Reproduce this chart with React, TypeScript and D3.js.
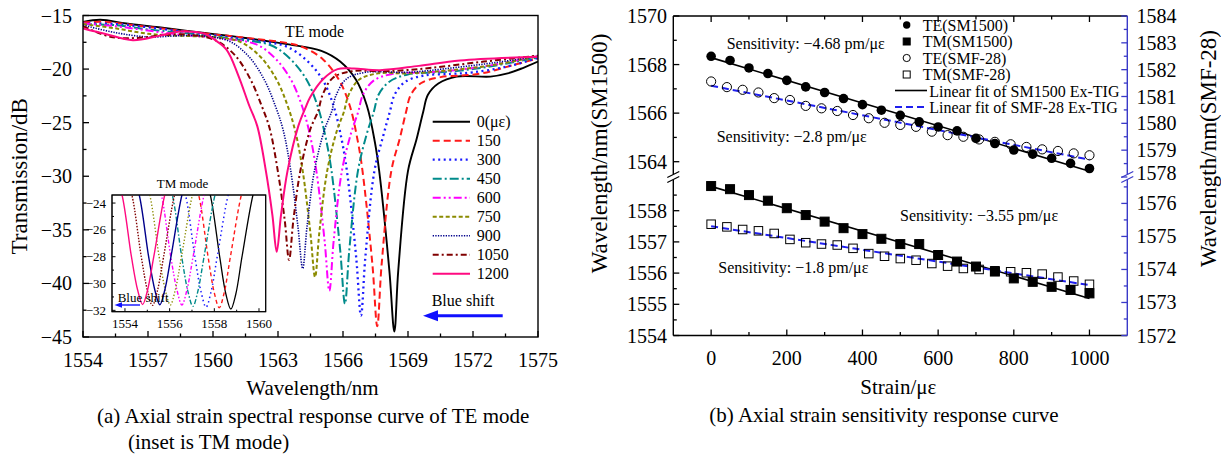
import React from "react";
import * as d3 from "d3";

type P = [number, number];

// ---------------- Panel (a): TE-mode spectra (wavelength nm, transmission dB) ----------------
const strainLevels = ["0(με)", "150", "300", "450", "600", "750", "900", "1050", "1200"];

const te0: P[] = [[1554,-15.6],[1554.8,-15.4],[1556,-15.75],[1557.5,-16.1],[1559.5,-16.6],[1561.5,-17.1],[1563.5,-17.7],[1565.0,-18.3],[1565.87,-19.3],[1566.6,-21.0],[1567.1,-23.4],[1567.47,-26.8],[1567.67,-29.5],[1568.14,-38.8],[1568.37,-44.5],[1568.55,-38.8],[1569.0,-29.5],[1569.4,-26.5],[1569.7,-24.0],[1569.92,-22.4],[1570.4,-21.35],[1571.25,-20.7],[1572.8,-20.7],[1573.6,-20.4],[1574.3,-19.9],[1575,-19.3]];
const te150: P[] = [[1554,-15.65],[1555,-15.6],[1556.5,-15.95],[1558,-16.3],[1560,-16.75],[1562,-17.2],[1563.5,-17.6],[1564.2,-18.0],[1565.08,-19.1],[1565.81,-21.0],[1566.31,-23.4],[1566.68,-26.7],[1566.9,-29.5],[1567.36,-38.3],[1567.58,-44.0],[1567.78,-38.3],[1568.23,-29.5],[1568.63,-26.4],[1568.91,-24.0],[1569.13,-22.4],[1569.61,-21.3],[1570.5,-20.75],[1571.5,-20.6],[1572.4,-20.4],[1573.9,-19.6],[1575,-19.0]];
const te300: P[] = [[1554,-15.75],[1555.5,-15.8],[1557,-16.1],[1559,-16.6],[1561,-17.1],[1562.5,-17.5],[1563.4,-17.9],[1564.33,-19.2],[1565.06,-21.0],[1565.56,-23.4],[1565.93,-26.5],[1566.18,-29.5],[1566.61,-37.6],[1566.83,-43.0],[1567.03,-37.6],[1567.45,-29.5],[1567.86,-26.2],[1568.16,-24.0],[1568.38,-22.4],[1568.86,-21.2],[1569.73,-20.6],[1571,-20.45],[1572,-20.3],[1573.5,-19.8],[1575,-18.95]];
const te450: P[] = [[1554,-15.8],[1555.5,-15.9],[1557,-16.3],[1559,-16.7],[1561,-17.2],[1562.7,-17.8],[1563.59,-19.1],[1564.32,-21.0],[1564.82,-23.4],[1565.19,-26.3],[1565.47,-29.5],[1565.87,-36.9],[1566.09,-41.9],[1566.29,-36.9],[1566.69,-29.5],[1567.09,-26.1],[1567.42,-24.0],[1567.64,-22.4],[1568.12,-21.2],[1568.99,-20.5],[1570.5,-20.3],[1572,-20.0],[1573.5,-19.5],[1575,-18.9]];
const te600: P[] = [[1554,-15.75],[1555.5,-16.0],[1557,-16.4],[1558.5,-16.8],[1560.2,-17.1],[1562.0,-17.7],[1562.87,-19.0],[1563.6,-21.0],[1564.1,-23.4],[1564.47,-26.1],[1564.77,-29.5],[1565.15,-36.0],[1565.37,-40.7],[1565.57,-36.0],[1565.95,-29.5],[1566.37,-26.0],[1566.7,-24.0],[1566.92,-22.4],[1567.4,-21.1],[1568.27,-20.45],[1570,-20.3],[1572,-19.9],[1573.5,-19.4],[1575,-18.8]];
const te750: P[] = [[1554,-15.8],[1555.5,-16.2],[1557,-16.7],[1558.5,-16.9],[1560,-17.0],[1561.3,-17.5],[1562.21,-18.9],[1562.94,-21.0],[1563.44,-23.4],[1563.81,-25.9],[1564.14,-29.5],[1564.49,-35.2],[1564.71,-39.4],[1564.91,-35.2],[1565.27,-29.5],[1565.71,-25.8],[1566.04,-24.0],[1566.26,-22.4],[1566.74,-21.0],[1567.61,-20.4],[1569,-20.4],[1571,-20.1],[1573,-19.6],[1575,-18.8]];
const te900: P[] = [[1554,-15.9],[1555.5,-16.6],[1557,-17.0],[1558.3,-16.9],[1559.5,-16.9],[1560.75,-17.4],[1561.64,-18.8],[1562.37,-21.0],[1562.87,-23.4],[1563.24,-25.7],[1563.59,-29.5],[1563.92,-34.7],[1564.14,-38.6],[1564.34,-34.7],[1564.68,-29.5],[1565.14,-25.7],[1565.47,-24.0],[1565.69,-22.4],[1566.17,-20.9],[1567.04,-20.3],[1569,-20.3],[1571,-19.9],[1573,-19.4],[1575,-18.8]];
const te1050: P[] = [[1554,-16.0],[1555.3,-17.0],[1556.5,-17.1],[1557.8,-16.8],[1559,-16.8],[1560.1,-17.3],[1561.01,-18.7],[1561.74,-21.0],[1562.24,-23.4],[1562.61,-25.5],[1562.99,-29.5],[1563.31,-34.1],[1563.51,-37.8],[1563.71,-34.1],[1564.03,-29.5],[1564.51,-25.5],[1564.84,-24.0],[1565.06,-22.4],[1565.54,-20.8],[1566.41,-20.2],[1568,-20.2],[1570,-19.9],[1572.5,-19.3],[1575,-18.75]];
const te1200: P[] = [[1554,-16.2],[1555,-16.7],[1556.3,-17.3],[1557.5,-16.9],[1558.5,-16.5],[1559.6,-16.7],[1560.1,-17.3],[1560.63,-18.2],[1561.17,-20.6],[1561.67,-23.4],[1562.04,-25.3],[1562.44,-29.5],[1562.74,-33.6],[1562.94,-37.05],[1563.14,-33.6],[1563.44,-29.5],[1563.94,-25.3],[1564.27,-23.6],[1564.49,-22.6],[1565.1,-20.9],[1565.75,-20.0],[1566.5,-19.95],[1567.7,-20.1],[1569.5,-19.7],[1571.4,-19.2],[1575,-18.85]];
const teSpectra = [te0, te150, te300, te450, te600, te750, te900, te1050, te1200];

// Inset: TM-mode dips
const tm0: P[] = [[1557.54,-22],[1557.82,-23.4],[1558.24,-28],[1558.52,-30.8],[1558.74,-31.9],[1558.96,-30.8],[1559.24,-28],[1559.73,-23.4],[1559.99,-22]];
const tm150: P[] = [[1557.02,-22],[1557.3,-23.4],[1557.72,-28],[1558.0,-30.7],[1558.22,-31.8],[1558.44,-30.7],[1558.72,-28],[1559.21,-23.4],[1559.47,-22]];
const tm300: P[] = [[1556.43,-22],[1556.71,-23.4],[1557.13,-28],[1557.41,-30.65],[1557.63,-31.76],[1557.85,-30.65],[1558.13,-28],[1558.62,-23.4],[1558.88,-22]];
const tm450: P[] = [[1555.84,-22],[1556.12,-23.4],[1556.54,-28],[1556.82,-30.6],[1557.04,-31.7],[1557.26,-30.6],[1557.54,-28],[1558.03,-23.4],[1558.29,-22]];
const tm600: P[] = [[1555.35,-22],[1555.63,-23.4],[1556.05,-28],[1556.33,-30.5],[1556.55,-31.6],[1556.77,-30.5],[1557.05,-28],[1557.54,-23.4],[1557.8,-22]];
const tm750: P[] = [[1554.83,-22],[1555.11,-23.4],[1555.53,-28],[1555.81,-30.5],[1556.03,-31.6],[1556.25,-30.5],[1556.53,-28],[1557.02,-23.4],[1557.28,-22]];
const tm900: P[] = [[1554.36,-22],[1554.64,-23.4],[1555.06,-28],[1555.34,-30.5],[1555.56,-31.58],[1555.78,-30.5],[1556.06,-28],[1556.55,-23.4],[1556.81,-22]];
const tm1050: P[] = [[1554.03,-22],[1554.31,-23.4],[1554.73,-28],[1555.01,-30.55],[1555.23,-31.63],[1555.45,-30.55],[1555.73,-28],[1556.22,-23.4],[1556.48,-22]];
const tm1200: P[] = [[1553.59,-22],[1553.87,-23.4],[1554.29,-28],[1554.57,-30.5],[1554.79,-31.56],[1555.01,-30.5],[1555.29,-28],[1555.78,-23.4],[1556.04,-22]];
const tmSpectra = [tm0, tm150, tm300, tm450, tm600, tm750, tm900, tm1050, tm1200];

const aXTicks = [1554, 1557, 1560, 1563, 1566, 1569, 1572, 1575];
const aYTicks = [-45, -40, -35, -30, -25, -20, -15];
const insetXTicks = [1554, 1556, 1558, 1560];
const insetYTicks = [-32, -30, -28, -26, -24];

// ---------------- Panel (b): sensitivity (strain με, wavelength nm) ----------------
const strainSM1500 = [0, 50, 100, 150, 200, 250, 300, 350, 400, 450, 500, 550, 600, 650, 700, 750, 800, 850, 900, 950, 1000];
const teSM1500 = [1568.34, 1568.17, 1567.86, 1567.63, 1567.35, 1567.08, 1566.85, 1566.6, 1566.35, 1566.12, 1565.91, 1565.64, 1565.43, 1565.27, 1564.96, 1564.75, 1564.48, 1564.31, 1564.14, 1563.93, 1563.72];
const tmSM1500 = [1558.79, 1558.69, 1558.5, 1558.32, 1558.08, 1557.86, 1557.65, 1557.44, 1557.25, 1557.1, 1556.93, 1556.93, 1556.58, 1556.37, 1556.21, 1556.05, 1555.83, 1555.72, 1555.56, 1555.46, 1555.35];
const strainSMF28 = [0, 41.67, 83.33, 125, 166.67, 208.33, 250, 291.67, 333.33, 375, 416.67, 458.33, 500, 541.67, 583.33, 625, 666.67, 708.33, 750, 791.67, 833.33, 875, 916.67, 958.33, 1000];
const teSMF28 = [1581.56, 1581.35, 1581.25, 1581.15, 1580.94, 1580.87, 1580.65, 1580.56, 1580.46, 1580.31, 1580.19, 1580.02, 1579.94, 1579.87, 1579.69, 1579.56, 1579.5, 1579.4, 1579.31, 1579.22, 1579.12, 1579.03, 1578.97, 1578.88, 1578.81];
const tmSMF28 = [1575.37, 1575.29, 1575.21, 1575.17, 1575.09, 1574.91, 1574.81, 1574.77, 1574.74, 1574.64, 1574.48, 1574.4, 1574.33, 1574.28, 1574.18, 1574.1, 1574.03, 1574.0, 1573.96, 1573.93, 1573.9, 1573.86, 1573.77, 1573.65, 1573.55];

const bXTicks = [0, 200, 400, 600, 800, 1000];
const bYUpperLeft = [1564, 1566, 1568, 1570];
const bYLowerLeft = [1554, 1555, 1556, 1557, 1558];
const bYUpperRight = [1578, 1579, 1580, 1581, 1582, 1583, 1584];
const bYLowerRight = [1572, 1573, 1574, 1575, 1576];
const legendB = ["TE(SM1500)", "TM(SM1500)", "TE(SMF-28)", "TM(SMF-28)", "Linear fit of SM1500 Ex-TIG", "Linear fit of SMF-28 Ex-TIG"];
const sensitivityLabels = ["Sensitivity: −4.68 pm/με", "Sensitivity: −2.8 pm/με", "Sensitivity: −3.55 pm/με", "Sensitivity: −1.8 pm/με"];

// ---------------- styles ----------------
const FONT = "'Liberation Serif','Times New Roman',serif";
const teStyles = [
  { c: "#000000", w: 1.9, dash: "" },
  { c: "#ff1a1a", w: 2, dash: "7,4" },
  { c: "#1a1aff", w: 2.3, dash: "2,3.5" },
  { c: "#008b8b", w: 2, dash: "9,3,2,3" },
  { c: "#ff00ff", w: 2, dash: "8,3,2,3,2,3" },
  { c: "#8b8b00", w: 2, dash: "4,2.5" },
  { c: "#00008b", w: 1.6, dash: "1.3,1.3" },
  { c: "#800000", w: 2, dash: "6,3,2,3" },
  { c: "#ff0a80", w: 2, dash: "" },
];
const tmStyles = [
  { c: "#000000", w: 1.3, dash: "" },
  { c: "#ff1a1a", w: 1.4, dash: "4,3" },
  { c: "#1a1aff", w: 1.5, dash: "1.5,3" },
  { c: "#008b8b", w: 1.4, dash: "5,2,1.5,2" },
  { c: "#ff00ff", w: 1.4, dash: "4,2,1.5,2,1.5,2" },
  { c: "#8b8b00", w: 1.4, dash: "1.3,2" },
  { c: "#00008b", w: 1.4, dash: "" },
  { c: "#800000", w: 1.4, dash: "1.5,1.5" },
  { c: "#ff0a80", w: 1.4, dash: "" },
];
const BLUE_AXIS = "#3a3ac8";
const FIT_BLUE = "#1f1fee";

function linFit(xs: number[], ys: number[]) {
  const mx = d3.mean(xs) as number;
  const my = d3.mean(ys) as number;
  let sxy = 0, sxx = 0;
  xs.forEach((x, i) => { sxy += (x - mx) * (ys[i] - my); sxx += (x - mx) * (x - mx); });
  const b = sxy / sxx;
  return { a: my - b * mx, b };
}

const minus = (v: number) => (v < 0 ? "−" + Math.abs(v) : String(v));

export default function App() {
  // ---- panel a scales
  const aL = 83, aR = 538, aT = 15.5, aB = 337;
  const xA = d3.scaleLinear().domain([1554, 1575]).range([aL, aR]);
  const yA = d3.scaleLinear().domain([-45, -15]).range([aB, aT]);
  const iL = 112, iR = 265.7, iT = 195, iB = 311.7;
  const xI = d3.scaleLinear().domain([1553.42, 1560.3]).range([iL, iR]);
  const yI = d3.scaleLinear().domain([-32.1, -23.4]).range([iB, iT]);
  const lineA = d3.line<P>().x((d) => xA(d[0])).y((d) => yA(d[1])).curve(d3.curveCatmullRom.alpha(0.5));
  const lineI = d3.line<P>().x((d) => xI(d[0])).y((d) => yI(d[1])).curve(d3.curveCatmullRom.alpha(0.5));

  // ---- panel b scales
  const bL = 673.3, bR = 1127.3, bT = 16, bB = 335.5, brk = 177;
  const xB = d3.scaleLinear().domain([-100, 1100]).range([bL, bR]);
  const yUL = d3.scaleLinear().domain([1563.37, 1570]).range([brk, bT]);
  const yLL = d3.scaleLinear().domain([1554, 1559.08]).range([bB, brk]);
  const yUR = d3.scaleLinear().domain([1578, 1584]).range([brk, bT]);
  const yLR = d3.scaleLinear().domain([1572, 1576.8]).range([bB, brk]);

  const fTE1 = linFit(strainSM1500, teSM1500);
  const fTM1 = linFit(strainSM1500, tmSM1500);
  const fTE2 = linFit(strainSMF28, teSMF28);
  const fTM2 = linFit(strainSMF28, tmSMF28);
  const fitPath = (f: { a: number; b: number }, y: d3.ScaleLinear<number, number>) =>
    d3.line<number>().x((s) => xB(s)).y((s) => y(f.a + f.b * s))([0, 1000]) as string;

  const txt = { fontFamily: FONT, fill: "#000" } as const;

  const aXMinor = d3.range(1554, 1575.01, 1.5).filter((v) => !aXTicks.some((t) => Math.abs(t - v) < 1e-6));
  const aYMinor = d3.range(-42.5, -15, 5);
  const bXMinor = d3.range(100, 1000, 200);
  const topTicks = d3.range(0, 1001, 100);

  const sq = (cx: number, cy: number, s: number, fill: string, key: string) => (
    <rect key={key} x={cx - s / 2} y={cy - s / 2} width={s} height={s} fill={fill} stroke="#000" strokeWidth={1} />
  );

  const breakMark = (x: number, color: string) => (
    <g stroke={color} strokeWidth={1.3}>
      <rect x={x - 3} y={brk - 2.8} width={6} height={5.6} fill="#fff" stroke="none" />
      <line x1={x - 6} y1={brk + 0.5} x2={x + 6} y2={brk - 5.5} />
      <line x1={x - 6} y1={brk + 5.5} x2={x + 6} y2={brk - 0.5} />
    </g>
  );

  return (
    <svg width={1221} height={454} style={{ position: "absolute", left: 0, top: 0, background: "#fff" }}>
      <defs>
        <clipPath id="clipA"><rect x={aL} y={aT} width={aR - aL} height={aB - aT} /></clipPath>
        <clipPath id="clipI"><rect x={iL} y={iT} width={iR - iL} height={iB - iT} /></clipPath>
      </defs>
      <rect x={0} y={0} width={1221} height={454} fill="#fff" />

      {/* ================= Panel (a) ================= */}
      <g clipPath="url(#clipA)">
        {teSpectra.map((s, i) => (
          <path key={i} d={lineA(s) as string} fill="none" stroke={teStyles[i].c} strokeWidth={teStyles[i].w}
            strokeDasharray={teStyles[i].dash || undefined} strokeLinejoin="round" />
        ))}
      </g>
      <rect x={aL} y={aT} width={aR - aL} height={aB - aT} fill="none" stroke="#000" strokeWidth={1.4} />
      {aXTicks.map((t) => <line key={"ax" + t} x1={xA(t)} x2={xA(t)} y1={aB} y2={aB - 6} stroke="#000" strokeWidth={1.3} />)}
      {aXMinor.map((t) => <line key={"axm" + t} x1={xA(t)} x2={xA(t)} y1={aB} y2={aB - 3.5} stroke="#000" strokeWidth={1.3} />)}
      {aYTicks.map((t) => <line key={"ay" + t} x1={aL} x2={aL + 6} y1={yA(t)} y2={yA(t)} stroke="#000" strokeWidth={1.3} />)}
      {aYMinor.map((t) => <line key={"aym" + t} x1={aL} x2={aL + 3.5} y1={yA(t)} y2={yA(t)} stroke="#000" strokeWidth={1.3} />)}
      {aXTicks.map((t) => <text key={"axl" + t} x={xA(t)} y={367} textAnchor="middle" fontSize={20} {...txt}>{t}</text>)}
      {aYTicks.map((t) => <text key={"ayl" + t} x={72} y={yA(t) + 7} textAnchor="end" fontSize={20} {...txt}>{minus(t)}</text>)}
      <text x={312.5} y={395} textAnchor="middle" fontSize={21} {...txt}>Wavelength/nm</text>
      <text transform={`translate(27,${(aT + aB) / 2}) rotate(-90)`} textAnchor="middle" fontSize={23} {...txt}>Transmission/dB</text>
      <text x={285} y={37} fontSize={16} {...txt}>TE mode</text>

      {/* legend a */}
      {strainLevels.map((lab, i) => {
        const y = 121.7 + 19 * i;
        return (
          <g key={"lg" + i}>
            <line x1={432.7} x2={470} y1={y} y2={y} stroke={teStyles[i].c} strokeWidth={teStyles[i].w}
              strokeDasharray={teStyles[i].dash || undefined} />
            <text x={476.7} y={y + 5.5} fontSize={16} {...txt}>{lab}</text>
          </g>
        );
      })}
      <text x={431.7} y={305.5} fontSize={16} {...txt}>Blue shift</text>
      <line x1={502.7} x2={436} y1={315.7} y2={315.7} stroke="#1010ff" strokeWidth={3} />
      <path d="M423,315.7 L438,310.2 L438,321.2 Z" fill="#1010ff" />

      {/* inset */}
      <rect x={iL} y={iT} width={iR - iL} height={iB - iT} fill="#fff" stroke="#000" strokeWidth={1} />
      <g clipPath="url(#clipI)">
        {tmSpectra.map((s, i) => (
          <path key={i} d={lineI(s) as string} fill="none" stroke={tmStyles[i].c} strokeWidth={tmStyles[i].w}
            strokeDasharray={tmStyles[i].dash || undefined} />
        ))}
      </g>
      <rect x={iL} y={iT} width={iR - iL} height={iB - iT} fill="none" stroke="#000" strokeWidth={1} />
      {insetXTicks.map((t) => <line key={"ix" + t} x1={xI(t)} x2={xI(t)} y1={iB} y2={iB - 3.5} stroke="#000" strokeWidth={1} />)}
      {[1555, 1557, 1559].map((t) => <line key={"ixm" + t} x1={xI(t)} x2={xI(t)} y1={iB} y2={iB - 2} stroke="#000" strokeWidth={1} />)}
      {insetYTicks.map((t) => <line key={"iy" + t} x1={iL} x2={iL + 3.5} y1={yI(t)} y2={yI(t)} stroke="#000" strokeWidth={1} />)}
      {[-31, -29, -27, -25].map((t) => <line key={"iym" + t} x1={iL} x2={iL + 2} y1={yI(t)} y2={yI(t)} stroke="#000" strokeWidth={1} />)}
      {insetXTicks.map((t) => <text key={"ixl" + t} x={xI(t)} y={327.5} textAnchor="middle" fontSize={13} {...txt}>{t}</text>)}
      {insetYTicks.map((t) => <text key={"iyl" + t} x={106} y={yI(t) + 4.5} textAnchor="end" fontSize={13} {...txt}>{minus(t)}</text>)}
      <text x={156.7} y={188} fontSize={13} {...txt}>TM mode</text>
      <text x={117.7} y={301.5} fontSize={13} {...txt}>Blue shift</text>
      <line x1={140} x2={121} y1={305} y2={305} stroke="#1010ff" strokeWidth={1.4} />
      <path d="M114.5,305 L122,302.3 L122,307.7 Z" fill="#1010ff" />

      <text x={97} y={423} fontSize={21} {...txt}>(a) Axial strain spectral response curve of TE mode</text>
      <text x={128} y={449} fontSize={21} {...txt}>(inset is TM mode)</text>

      {/* ================= Panel (b) ================= */}
      {/* fits */}
      <path d={fitPath(fTE1, yUL)} stroke="#000" strokeWidth={1.6} fill="none" />
      <path d={fitPath(fTM1, yLL)} stroke="#000" strokeWidth={1.6} fill="none" />
      <path d={fitPath(fTE2, yUR)} stroke={FIT_BLUE} strokeWidth={2} strokeDasharray="7,4" fill="none" />
      <path d={fitPath(fTM2, yLR)} stroke={FIT_BLUE} strokeWidth={2} strokeDasharray="7,4" fill="none" />
      {/* points */}
      {strainSM1500.map((s, i) => <circle key={"te1" + i} cx={xB(s)} cy={yUL(teSM1500[i])} r={4.8} fill="#000" />)}
      {strainSM1500.map((s, i) => sq(xB(s), yLL(tmSM1500[i]), 9, "#000", "tm1" + i))}
      {strainSMF28.map((s, i) => <circle key={"te2" + i} cx={xB(s)} cy={yUR(teSMF28[i])} r={4.6} fill="none" stroke="#000" strokeWidth={1} />)}
      {strainSMF28.map((s, i) => sq(xB(s), yLR(tmSMF28[i]), 8.5, "none", "tm2" + i))}

      {/* frame */}
      <line x1={bL} x2={bR} y1={bT} y2={bT} stroke="#000" strokeWidth={1.4} />
      <line x1={bL} x2={bR} y1={bB} y2={bB} stroke="#000" strokeWidth={1.4} />
      <line x1={bL} x2={bL} y1={bT} y2={bB} stroke="#000" strokeWidth={1.4} />
      <line x1={bR} x2={bR} y1={bT} y2={bB} stroke={BLUE_AXIS} strokeWidth={1.4} />
      {breakMark(bL, "#000")}
      {breakMark(bR, BLUE_AXIS)}

      {/* x ticks */}
      {bXTicks.map((t) => <line key={"bx" + t} x1={xB(t)} x2={xB(t)} y1={bB} y2={bB - 6} stroke="#000" strokeWidth={1.3} />)}
      {bXMinor.map((t) => <line key={"bxm" + t} x1={xB(t)} x2={xB(t)} y1={bB} y2={bB - 3.5} stroke="#000" strokeWidth={1.3} />)}
      {topTicks.map((t) => <line key={"bt" + t} x1={xB(t)} x2={xB(t)} y1={bT} y2={bT + (t % 200 === 0 ? 6 : 3.5)} stroke="#000" strokeWidth={1.3} />)}
      {bXTicks.map((t) => <text key={"bxl" + t} x={xB(t)} y={365} textAnchor="middle" fontSize={20} {...txt}>{t}</text>)}

      {/* left y ticks */}
      {bYUpperLeft.map((t) => <line key={"bul" + t} x1={bL} x2={bL + 6} y1={yUL(t)} y2={yUL(t)} stroke="#000" strokeWidth={1.3} />)}
      {[1565, 1567, 1569].map((t) => <line key={"bulm" + t} x1={bL} x2={bL + 3.5} y1={yUL(t)} y2={yUL(t)} stroke="#000" strokeWidth={1.3} />)}
      {bYLowerLeft.map((t) => <line key={"bll" + t} x1={bL} x2={bL + 6} y1={yLL(t)} y2={yLL(t)} stroke="#000" strokeWidth={1.3} />)}
      {[1554.5, 1555.5, 1556.5, 1557.5, 1558.5].map((t) => <line key={"bllm" + t} x1={bL} x2={bL + 3.5} y1={yLL(t)} y2={yLL(t)} stroke="#000" strokeWidth={1.3} />)}
      {bYUpperLeft.map((t) => <text key={"bulL" + t} x={667} y={yUL(t) + 7} textAnchor="end" fontSize={20} {...txt}>{t}</text>)}
      {bYLowerLeft.map((t) => <text key={"bllL" + t} x={667} y={yLL(t) + 7} textAnchor="end" fontSize={20} {...txt}>{t}</text>)}

      {/* right y ticks */}
      {bYUpperRight.map((t) => <line key={"bur" + t} x1={bR} x2={bR - 6} y1={yUR(t)} y2={yUR(t)} stroke={BLUE_AXIS} strokeWidth={1.3} />)}
      {[1578.5, 1579.5, 1580.5, 1581.5, 1582.5, 1583.5].map((t) => <line key={"burm" + t} x1={bR} x2={bR - 3.5} y1={yUR(t)} y2={yUR(t)} stroke={BLUE_AXIS} strokeWidth={1.3} />)}
      {bYLowerRight.map((t) => <line key={"blr" + t} x1={bR} x2={bR - 6} y1={yLR(t)} y2={yLR(t)} stroke={BLUE_AXIS} strokeWidth={1.3} />)}
      {[1572.5, 1573.5, 1574.5, 1575.5, 1576.5].map((t) => <line key={"blrm" + t} x1={bR} x2={bR - 3.5} y1={yLR(t)} y2={yLR(t)} stroke={BLUE_AXIS} strokeWidth={1.3} />)}
      {bYUpperRight.map((t) => <text key={"burL" + t} x={1136.5} y={yUR(t) + (t === 1578 ? 3 : 7)} fontSize={20} {...txt}>{t}</text>)}
      {bYLowerRight.map((t) => <text key={"blrL" + t} x={1136.5} y={yLR(t) + 7} fontSize={20} {...txt}>{t}</text>)}

      <text x={898.3} y={394} textAnchor="middle" fontSize={21} {...txt}>Strain/με</text>
      <text transform={`translate(607,153.5) rotate(-90)`} textAnchor="middle" fontSize={23} {...txt}>Wavelength/nm(SM1500)</text>
      <text transform={`translate(1216,148.5) rotate(-90)`} textAnchor="middle" fontSize={23} {...txt}>Wavelength/nm(SMF-28)</text>
      <text x={884} y={422} textAnchor="middle" fontSize={21} {...txt}>(b) Axial strain sensitivity response curve</text>

      {/* sensitivity labels */}
      <text x={726.7} y={49} fontSize={16} {...txt}>{sensitivityLabels[0]}</text>
      <text x={716.7} y={141.5} fontSize={16} {...txt}>{sensitivityLabels[1]}</text>
      <text x={900} y={221} fontSize={16} {...txt}>{sensitivityLabels[2]}</text>
      <text x={718.3} y={273} fontSize={16} {...txt}>{sensitivityLabels[3]}</text>

      {/* legend b */}
      <circle cx={906.7} cy={25} r={3.7} fill="#000" />
      {sq(906.7, 41.5, 7, "#000", "lgsq1")}
      <circle cx={906.7} cy={58} r={3.6} fill="none" stroke="#000" strokeWidth={1} />
      {sq(906.7, 74.5, 7, "none", "lgsq2")}
      <line x1={895} x2={927} y1={90.5} y2={90.5} stroke="#000" strokeWidth={1.6} />
      <line x1={895} x2={927} y1={107} y2={107} stroke={FIT_BLUE} strokeWidth={2} strokeDasharray="7,4" />
      {legendB.map((l, i) => (
        <text key={"lb" + i} x={i < 4 ? 922.7 : 929.3} y={25 + 16.5 * i + 5.5} fontSize={16} {...txt}>{l}</text>
      ))}
    </svg>
  );
}
